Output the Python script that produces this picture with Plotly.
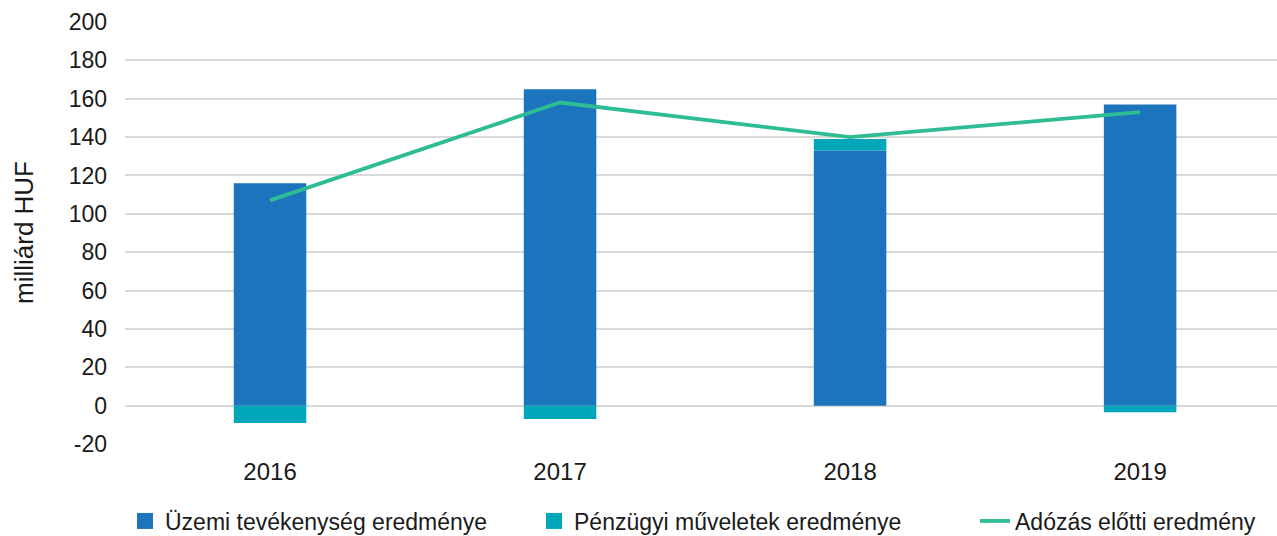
import plotly.graph_objects as go

years = ["2016", "2017", "2018", "2019"]
uzemi = [116, 165, 133, 157]
penzugyi = [-9, -7, 6, -3.5]
adozas_elotti = [107, 158, 140, 153]
y_ticks = [-20, 0, 20, 40, 60, 80, 100, 120, 140, 160, 180, 200]
y_tick_text = [str(v) for v in y_ticks]  # plain hyphen for -20, like the source

BLUE = "#1c75bc"
TEAL = "#00a6ba"
GREEN = "#2ebc94"
FONT = "Liberation Sans, Arial, sans-serif"
FS = 23
W, H = 1277, 536
L, R = 125, 0

fig = go.Figure()
# bars carry the data; the legend entries are legend-only swatches so they can be big squares
fig.add_trace(go.Bar(x=years, y=uzemi, name="Üzemi tevékenység eredménye",
                     marker=dict(color=BLUE, line=dict(width=0)), width=0.25, showlegend=False))
fig.add_trace(go.Bar(x=years, y=penzugyi, name="Pénzügyi műveletek eredménye",
                     marker=dict(color=TEAL, line=dict(width=0)), width=0.25, showlegend=False))
fig.add_trace(go.Scatter(x=years, y=adozas_elotti, name="Adózás előtti eredmény",
                         mode="lines", line=dict(color=GREEN, width=3.8), legend="legend3"))

fig.add_trace(go.Scatter(x=[None], y=[None], mode="markers", name="Üzemi tevékenység eredménye",
                         marker=dict(symbol="square", size=20, color=BLUE), legend="legend"))
fig.add_trace(go.Scatter(x=[None], y=[None], mode="markers", name="Pénzügyi műveletek eredménye",
                         marker=dict(symbol="square", size=20, color=TEAL), legend="legend2"))


def legend_at(px_left):
    return dict(orientation="h", xref="container", yref="container",
                x=px_left / W, xanchor="left", y=0.028, yanchor="middle",
                font=dict(size=FS, family=FONT, color="#1a1a1a"), bgcolor="rgba(0,0,0,0)",
                itemsizing="trace")


fig.update_layout(
    barmode="relative",
    width=W, height=H,
    margin=dict(l=L, r=R, t=22, b=92),
    paper_bgcolor="white", plot_bgcolor="white",
    font=dict(family=FONT, size=FS, color="#1a1a1a"),
    xaxis=dict(type="category", range=[-0.5, 3.472], showgrid=False, zeroline=False,
               showline=False, ticks="", automargin=False, ticklabelstandoff=11,
               tickfont=dict(size=24)),
    yaxis=dict(range=[-20, 200], tickvals=y_ticks, ticktext=y_tick_text, showgrid=True,
               gridcolor="#d9d9d9", gridwidth=1.5, zeroline=False,
               ticks="", ticklabelstandoff=17, automargin=False),
    legend=legend_at(125),
    legend2=legend_at(534),
    legend3=legend_at(975),
    annotations=[dict(text="milliárd HUF", textangle=-90, xref="paper", yref="paper",
                      x=(24 - L) / (W - L - R), y=0.5, xanchor="center", yanchor="middle",
                      showarrow=False, font=dict(size=26))],
)

# the page's default 8px body margin would push the figure off the 1277x536 window
fig.write_html("out.html", config={"displayModeBar": False},
               post_script="document.body.style.margin='0';")
